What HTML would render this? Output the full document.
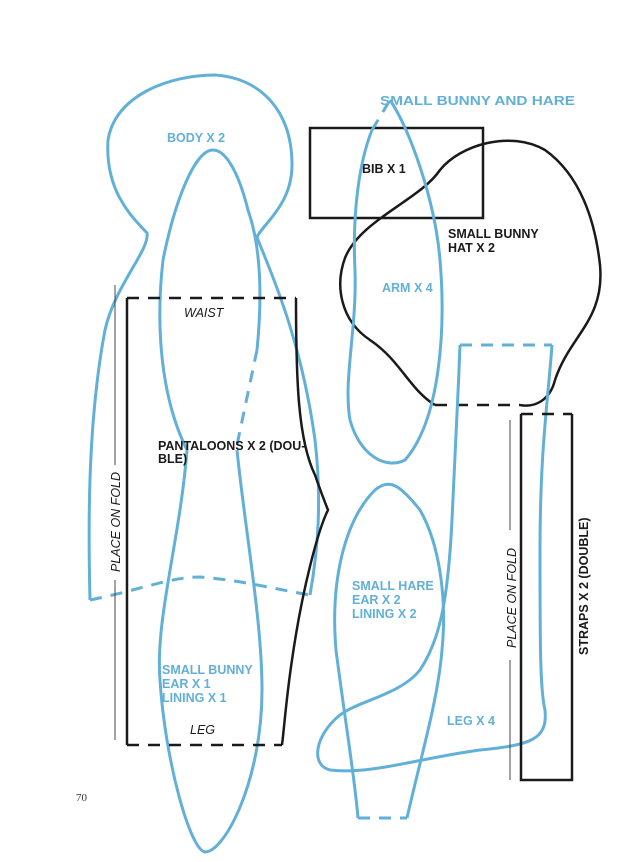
<!DOCTYPE html>
<html><head><style>
body{margin:0;background:#fff}
svg{display:block}
.b{fill:none;stroke:#62b0d8;stroke-width:3;stroke-linejoin:round}
.k{fill:none;stroke:#1a1a1a;stroke-width:2.5}
.d{stroke-dasharray:12 9}
text{font-family:"Liberation Sans",sans-serif;font-weight:bold;font-size:12.5px}
.bt{fill:#62b0d8}
.kt{fill:#1a1a1a}
.it{font-style:italic;font-weight:normal}
</style></head><body>
<svg width="640" height="862" viewBox="0 0 640 862">
<path class="b" d="M90,600 C88,520 88,420 105,330 C115,285 150,250 147,233 C130,215 105,190 108,140 C115,95 170,75 215,75 C260,78 292,110 292,165 C292,205 262,225 257,237 C265,260 300,330 315,440 C322,500 318,550 310,595"/>
<path class="b d" d="M90,600 C140,590 170,577 200,577 C240,580 280,590 310,595"/>
<path class="b" d="M257,350 C262,300 262,250 248,210 C238,170 225,150 213,150 C195,150 175,200 163,260 C155,330 162,400 187,450 C180,540 155,620 160,680 C165,760 190,850 205,852 C225,852 262,780 262,690 C262,620 245,530 237,450"/>
<path class="b d" d="M257,350 L237,445"/>
<path class="k d" d="M127,298 L296,298"/>
<path class="k" d="M127,298 L127,745 M296,298 C296,380 298,440 315,475 C322,495 328,510 328,510 C318,530 302,590 292,660 C286,700 284,730 282,745"/>
<path class="k d" d="M127,745 L282,745"/>
<line x1="115" y1="285" x2="115" y2="465" stroke="#444" stroke-width="1"/>
<line x1="115" y1="580" x2="115" y2="740" stroke="#444" stroke-width="1"/>
<text class="kt it" x="0" y="0" transform="translate(120,572) rotate(-90)" font-size="13">PLACE ON FOLD</text>
<text class="kt it" x="184" y="317">WAIST</text>
<text class="kt it" x="190" y="734">LEG</text>
<text class="kt" x="158" y="450">PANTALOONS X 2 (DOU-</text>
<text class="kt" x="158" y="463">BLE)</text>
<text class="bt" x="167" y="142">BODY X 2</text>
<text class="bt" x="162" y="674">SMALL BUNNY</text>
<text class="bt" x="162" y="688">EAR X 1</text>
<text class="bt" x="162" y="702">LINING X 1</text>
<rect class="k" x="310" y="128" width="173" height="90"/>
<text class="kt" x="362" y="173">BIB X 1</text>
<path class="k" d="M435,405 C410,390 400,360 370,340 C340,320 335,285 345,258 C360,220 420,200 440,170 C460,145 510,130 545,150 C580,175 595,220 600,265 C605,320 570,335 555,380 C550,400 535,408 520,405"/>
<path class="k d" d="M435,405 L520,405"/>
<text class="kt" x="448" y="238">SMALL BUNNY</text>
<text class="kt" x="448" y="252">HAT X 2</text>
<path class="b" d="M390,100 C410,130 435,200 440,260 C446,330 440,420 405,460 C385,470 360,455 350,420 C343,380 357,330 355,270 C352,210 360,160 372,130"/>
<path class="b d" d="M372,130 L390,100"/>
<text class="bt" x="382" y="292">ARM X 4</text>
<text class="bt" x="380" y="105" font-size="18" textLength="195" lengthAdjust="spacingAndGlyphs">SMALL BUNNY AND HARE</text>
<path class="b d" d="M460,345 L552,345"/>
<path class="b" d="M552,345 C548,400 540,450 540,550 C540,640 540,690 545,710 C548,740 530,745 480,750 C420,758 370,775 330,770 C310,765 315,735 340,715 C360,700 400,695 420,670 C440,640 448,600 452,520 C455,450 458,400 460,345"/>
<path class="b" d="M358,818 C355,780 345,720 336,650 C330,580 345,520 375,490 C390,478 400,485 420,510 C440,545 447,600 442,650 C438,700 420,760 407,818"/>
<path class="b d" d="M358,818 L407,818"/>
<text class="bt" x="352" y="590">SMALL HARE</text>
<text class="bt" x="352" y="604">EAR X 2</text>
<text class="bt" x="352" y="618">LINING X 2</text>
<text class="bt" x="447" y="725">LEG X 4</text>
<path class="k d" d="M521,414 L572,414"/>
<path class="k" d="M521,414 L521,780 L572,780 L572,414"/>
<line x1="510" y1="420" x2="510" y2="530" stroke="#444" stroke-width="1"/>
<line x1="510" y1="660" x2="510" y2="780" stroke="#444" stroke-width="1"/>
<text class="kt it" transform="translate(516,648) rotate(-90)" font-size="13">PLACE ON FOLD</text>
<text class="kt" transform="translate(588,655) rotate(-90)">STRAPS X 2 (DOUBLE)</text>
<text x="76" y="801" style="font-family:'Liberation Serif',serif;font-weight:normal;font-size:11px" fill="#333">70</text>
</svg>
</body></html>
